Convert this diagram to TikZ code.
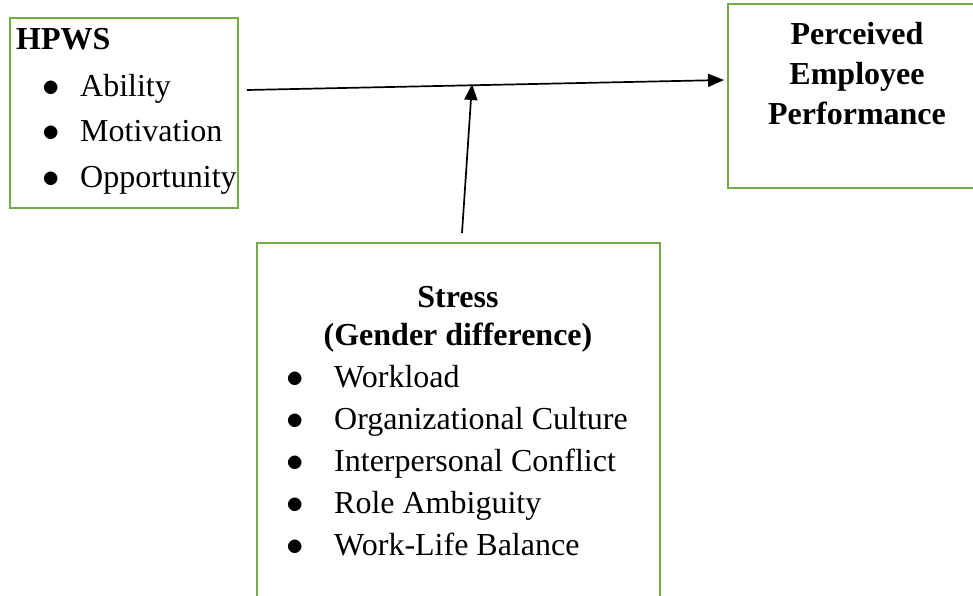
\documentclass[tikz,border=0pt]{standalone}
\usepackage{fontspec}
\setmainfont{Liberation Serif}
\usetikzlibrary{arrows.meta}
\definecolor{boxgreen}{RGB}{112,173,71}
\newcommand{\itemdot}{\scalebox{1.4}{$\bullet$}}

\begin{document}
\begin{tikzpicture}[x=1pt,y=-1pt,
  box/.style={draw=boxgreen, line width=2.8pt, inner sep=0pt},
  txt/.style={inner sep=0pt, font=\fontsize{32}{38}\selectfont},
  arr/.style={line width=1.7pt, -{Triangle[length=16pt,width=13pt]}}]
\clip (0,0) rectangle (973,596);
% boxes
\node[box, minimum width=228, minimum height=190] (hpws) at (124,113) {};
\node[box, minimum width=258, minimum height=184] (perf) at (857,96) {};
\node[box, minimum width=403, minimum height=397] (stress) at (458.5,441.5) {};
% HPWS
\node[txt, anchor=base west] (hpwst) at (16,50) {\textbf{HPWS}};
\foreach \t [count=\i] in {Ability,Motivation,Opportunity}
  \node[txt, anchor=base west] (h\i) at (42,{52+45*\i}) {\makebox[38pt][l]{\itemdot}\t};
% outcome
\node[txt, anchor=base] (p1) at (857,45) {\textbf{Perceived}};
\node[txt, anchor=base] (p2) at (857,85) {\textbf{Employee}};
\node[txt, anchor=base] (p3) at (857,125) {\textbf{Performance}};
% moderator
\node[txt, anchor=base] (s1) at (458,307) {\textbf{Stress}};
\node[txt, anchor=base] (s2) at (458,345) {\textbf{(Gender difference)}};
\foreach \t [count=\i] in {Workload,Organizational Culture,Interpersonal Conflict,Role Ambiguity,Work-Life Balance}
  \node[txt, anchor=base west] (s\i x) at (286,{345+42*\i}) {\makebox[48pt][l]{\itemdot}\t};
% arrows
\coordinate (a) at (247,90);
\coordinate (b) at (724,80);
\coordinate (c) at (462,233);
\coordinate (m) at (472,84);
\draw[arr] (a) -- (b);
\draw[arr] (c) -- (m);
\end{tikzpicture}
\end{document}
